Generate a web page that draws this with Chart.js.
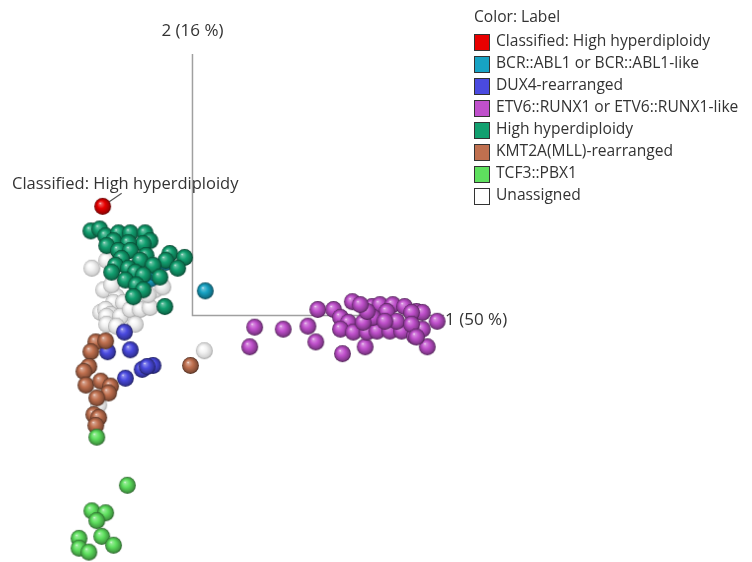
<!DOCTYPE html>
<html>
<head>
<meta charset="utf-8">
<script src="https://cdn.jsdelivr.net/npm/chart.js@4/dist/chart.umd.min.js"></script>
<style>
  body { margin: 0; background: #fff; }
  #wrap { width: 752px; height: 562px; }
</style>
</head>
<body>
<div id="wrap"><canvas id="pca" width="752" height="562"></canvas></div>
<script>
// score plot, component 1 vs component 2
var axisTitles = ['1 (50 %)', '2 (16 %)'];
var axisEnds = [255, 266];  // length of the drawn axis arms, in score units

var labels = ['Classified: High hyperdiploidy', 'BCR::ABL1 or BCR::ABL1-like', 'DUX4-rearranged',
  'ETV6::RUNX1 or ETV6::RUNX1-like', 'High hyperdiploidy', 'KMT2A(MLL)-rearranged', 'TCF3::PBX1', 'Unassigned'];
var colors = ['#e80000', '#17a3c4', '#4a4ae0', '#c050cc', '#12a070', '#c0704f', '#5ee05e', '#ffffff'];
var drawOrder = [0, 6, 4, 2, 5, 3, 1, 7]; // lower = on top

var classified = [[-91, 111]];
var bcrAbl1 = [[13, 25], [-27, 54], [-43, 37], [-40, 44]];
var dux4 = [[-69, -17], [-86, -37], [-63, -35], [-51, -55], [-40, -51], [-46, -52], [-68, -64]];
var etv6 = [[63, -12], [92, -14], [117, -11], [58, -32], [125, -27], [127, 6], [143, 6], [162, 14], [152, -39],
  [175, -32], [238, -32], [248, -6], [150, -2], [158, -7], [150, -14], [163, -17], [177, -17], [187, -16],
  [200, -16], [212, -16], [225, -21], [233, -14], [182, 9], [190, 11], [203, 11], [215, 9], [227, 4],
  [233, 3], [222, 3], [197, 4], [183, -2], [207, -6], [222, -9], [173, -7], [227, -22], [177, 4], [195, -6], [170, 11]];
var highHyper = [[-103, 86], [-94, 88], [-88, 81], [-75, 84], [-63, 84], [-48, 84], [-43, 76], [-50, 73],
  [-80, 76], [-87, 71], [-65, 74], [-75, 66], [-63, 66], [-47, 61], [-53, 56], [-72, 58], [-23, 63], [-8, 59],
  [-27, 56], [-15, 48], [-78, 51], [-82, 44], [-65, 48], [-58, 44], [-40, 51], [-50, 41], [-68, 36], [-33, 39],
  [-57, 31], [-50, 26], [-60, 19], [-28, 9]];
var kmt2a = [[-98, -27], [-88, -26], [-103, -37], [-105, -52], [-110, -57], [-108, -71], [-93, -67], [-83, -72],
  [-85, -79], [-97, -84], [-100, -101], [-95, -104], [-98, -112], [-2, -51]];
var tcf3 = [[-97, -124], [-66, -173], [-102, -199], [-88, -201], [-97, -209], [-115, -227], [-115, -237],
  [-105, -241], [-92, -225], [-80, -234]];
var unassigned = [[-102, 48], [-87, 56], [-90, 26], [-77, 19], [-80, 13], [-70, 13], [-93, 3], [-88, 6], [-83, 1],
  [-87, -1], [-73, -1], [-63, 6], [-53, 6], [-43, 8], [-38, 26], [-30, 29], [-58, -9], [-87, -9], [-77, -11],
  [12, -36], [-95, -91], [-45, 21], [-82, 31]];
var groups = [classified, bcrAbl1, dux4, etv6, highHyper, kmt2a, tcf3, unassigned];

function shade(hex, amt) {
  var n = parseInt(hex.slice(1), 16);
  var r = n >> 16, g = (n >> 8) & 255, b = n & 255;
  var t = amt < 0 ? 0 : 255, p = Math.abs(amt);
  r = Math.round(r + (t - r) * p); g = Math.round(g + (t - g) * p); b = Math.round(b + (t - b) * p);
  return 'rgb(' + r + ',' + g + ',' + b + ')';
}

// little shaded ball used as point style
function sphere(color, r) {
  var c = document.createElement('canvas');
  c.width = c.height = Math.ceil(r * 2 + 2);
  var g = c.getContext('2d');
  var m = c.width / 2;
  var white = color === '#ffffff';
  var grad = g.createRadialGradient(m - r * 0.3, m - r * 0.38, r * 0.02, m, m, r);
  grad.addColorStop(0, white ? '#ffffff' : shade(color, 0.85));
  grad.addColorStop(0.12, white ? '#ffffff' : shade(color, 0.35));
  grad.addColorStop(0.45, white ? '#f2f2f2' : color);
  grad.addColorStop(0.85, white ? '#d2d2d2' : shade(color, -0.3));
  grad.addColorStop(1, white ? '#a0a0a0' : shade(color, -0.6));
  g.fillStyle = grad;
  g.beginPath();
  g.arc(m, m, r, 0, Math.PI * 2);
  g.fill();
  return c;
}

var datasets = labels.map(function (lab, i) {
  return {
    label: lab,
    data: groups[i].map(function (p) { return { x: p[0], y: p[1] }; }),
    pointStyle: sphere(colors[i], 8.4),
    order: drawOrder[i],
    clip: false
  };
});

var font = '"Open Sans", "Noto Sans", sans-serif';

var axesPlugin = {
  id: 'pcaAxes',
  beforeDatasetsDraw: function (chart) {
    var c = chart.ctx, xs = chart.scales.x, ys = chart.scales.y;
    var ox = xs.getPixelForValue(0), oy = ys.getPixelForValue(0);
    var ex = xs.getPixelForValue(axisEnds[0]), ey = ys.getPixelForValue(axisEnds[1]);
    c.save();
    c.strokeStyle = '#a0a0a0';
    c.lineWidth = 1.5;
    c.beginPath();
    c.moveTo(ox, ey); c.lineTo(ox, oy); c.lineTo(ex, oy);
    c.stroke();
    c.fillStyle = '#333';
    c.font = '17px ' + font;
    c.textBaseline = 'middle';
    c.textAlign = 'center';
    c.fillText(axisTitles[1], ox, ey - 23);
    c.textAlign = 'left';
    c.fillText(axisTitles[0], ex + 1, oy + 5);
    // annotation for the classified sample
    var p = classified[0];
    var px = xs.getPixelForValue(p[0]), py = ys.getPixelForValue(p[1]);
    c.strokeStyle = '#555';
    c.lineWidth = 1.2;
    c.beginPath();
    c.moveTo(px, py); c.lineTo(px + 19, py - 13);
    c.stroke();
    c.font = '16.5px ' + font;
    c.fillText(labels[0], 12, py - 22);
    c.restore();
  },
  afterDraw: function (chart) {
    var c = chart.ctx;
    var x0 = 474, y0 = 18, step = 22;
    c.save();
    c.fillStyle = '#333';
    c.font = '15.6px ' + font;
    c.textBaseline = 'middle';
    c.textAlign = 'left';
    c.fillText('Color: Label', x0, y0);
    labels.forEach(function (lab, i) {
      var y = y0 + step * (i + 1) + 2;
      c.fillStyle = colors[i];
      c.fillRect(x0, y - 8, 16, 17);
      c.strokeStyle = '#333';
      c.lineWidth = 1;
      c.strokeRect(x0 + 0.5, y - 7.5, 15, 16);
      c.fillStyle = '#333';
      c.fillText(lab, x0 + 22, y);
    });
    c.restore();
  }
};

new Chart(document.getElementById('pca').getContext('2d'), {
  type: 'scatter',
  data: { datasets: datasets },
  options: {
    responsive: false,
    animation: false,
    layout: { padding: 0 },
    scales: {
      x: { type: 'linear', display: false, min: -190, max: 562 },
      y: { type: 'linear', display: false, min: -246, max: 316 }
    },
    plugins: { legend: { display: false }, tooltip: { enabled: false } }
  },
  plugins: [axesPlugin]
});
</script>
</body>
</html>
